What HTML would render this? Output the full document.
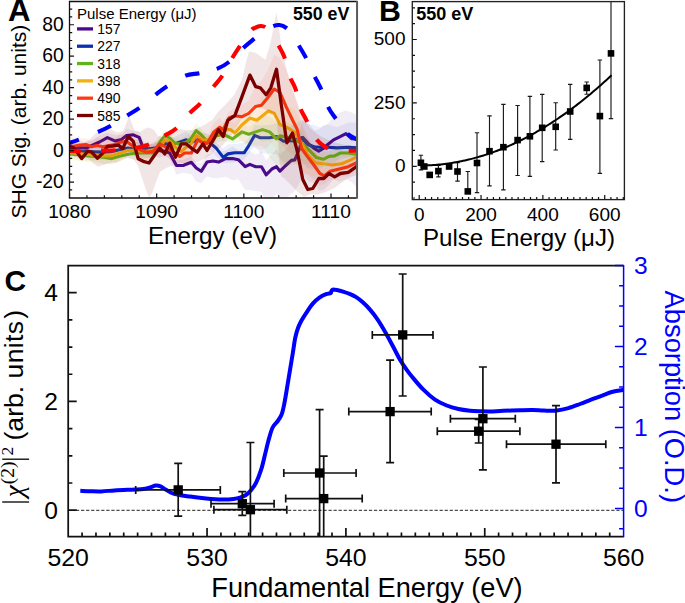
<!DOCTYPE html>
<html><head><meta charset="utf-8"><style>
html,body{margin:0;padding:0;background:#fff;}
body{width:685px;height:603px;overflow:hidden;}
svg{display:block;font-family:"Liberation Sans", sans-serif;}
</style></head><body>
<svg width="685" height="603" viewBox="0 0 685 603">
<rect width="685" height="603" fill="#fff"/>
<defs><clipPath id="clipA"><rect x="70" y="2" width="286.3" height="195.5"/></clipPath><clipPath id="clipB"><rect x="412.9" y="2" width="210.1" height="197"/></clipPath><clipPath id="clipC"><rect x="68.8" y="266" width="554.2" height="270"/></clipPath></defs>
<g clip-path="url(#clipA)">
<polygon points="68,141.14 81.1,140.82 86.4,142.51 92.5,139.92 99.5,135.44 107.4,132.47 115.3,134.92 121.4,134.99 126.6,128.63 133.3,130.69 139.1,131.08 143.2,141.2 148.2,144.74 154.8,141.55 159.8,144.24 164.8,148.2 169.7,146.47 176.4,160.06 183,159.83 191.3,156.57 196.2,162.84 201.2,163.01 207,155.1 212.8,152.57 218.6,151.91 225.5,150.42 232.5,146.53 238.3,150.02 245.2,153.31 249.9,151.01 255.7,154.67 261.5,151.13 266.1,160.19 271.9,154.08 276.5,149.33 280,154.29 285.7,149.81 291.4,141.24 294.8,141.13 299,133.75 302.8,118.32 308.5,122.97 314.2,130.56 318.7,129.59 323.3,125.74 327.8,123.87 333.5,116.5 339.2,112.78 346,110.41 351.7,112.4 358,115.37 358,188.36 351.7,182.27 346,179.24 339.2,181.81 333.5,179.6 327.8,185.88 323.3,190.23 318.7,190.5 314.2,183.26 308.5,181.47 302.8,174.49 299,184.06 294.8,191.1 291.4,193.43 285.7,198.91 280,200.69 276.5,193.72 271.9,198.34 266.1,203.69 261.5,192.11 255.7,191.01 249.9,189.97 245.2,189.98 238.3,179.34 232.5,180.19 225.5,176.78 218.6,178.35 212.8,178.31 207,176.2 201.2,182.9 196.2,181.43 191.3,174.35 183,172.87 176.4,174.86 169.7,158.72 164.8,155.68 159.8,158.07 154.8,155.73 148.2,152.21 143.2,154.65 139.1,145.28 133.3,140.9 126.6,140.86 121.4,147.28 115.3,147.51 107.4,143.39 99.5,149.67 92.5,148.19 86.4,155.36 81.1,155.4 68,155.32" fill="rgba(75,0,130,0.075)"/>
<polyline points="68,148.1 81.1,147.7 86.4,148.1 92.5,145.1 99.5,142 107.4,137.6 115.3,141.1 121.4,139.4 126.6,135.6 133.3,134.8 139.1,137.3 143.2,148.1 148.2,148.9 154.8,148.1 159.8,150.6 164.8,151.4 169.7,153 176.4,165.5 183,165.5 191.3,162.2 196.2,168 201.2,171.3 207,162.1 212.8,160.9 218.6,162.1 225.5,158.6 232.5,158.6 238.3,159.7 245.2,166.7 249.9,164.4 255.7,166.7 261.5,166.7 266.1,174.8 271.9,169 276.5,166.7 280,171.2 285.7,165.5 291.4,160.4 294.8,159.9 299,150 302.8,137.6 308.5,143.9 314.2,148.5 318.7,151.3 323.3,148.5 327.8,144.5 333.5,139.9 339.2,137.1 346,133.7 351.7,138.8 358,139.4" fill="none" stroke="#4a0a8c" stroke-width="3.1" stroke-linejoin="round"/>
<polygon points="68,142.98 85.5,143.81 103,146 111.8,146.31 120.5,142.94 128,142.08 136.6,141.78 153.2,144.18 163.1,137.52 174.7,136.98 186.3,131.26 191.3,135.77 197.9,134.38 206.2,132.78 209.3,135.15 216.2,142.72 223.2,148.6 227.8,144.6 234.8,144.05 244.1,142.87 248.7,138.32 254.5,125.01 260.3,125.47 269.6,124.67 276.5,123.06 283.5,128.26 293.9,124.76 301.6,120.08 307.3,124.07 314.2,124.89 319.9,127.14 327.8,124.46 336.9,127.26 348.3,122.46 358,122.53 358,155.55 348.3,157.79 336.9,160.68 327.8,163.56 319.9,166.52 314.2,169.15 307.3,168.1 301.6,160.68 293.9,162.43 283.5,162.49 276.5,154.33 269.6,153.71 260.3,153.12 254.5,147.04 248.7,153.4 244.1,159.51 234.8,162.57 227.8,163.32 223.2,162.99 216.2,155.93 209.3,148.63 206.2,144.68 197.9,147.64 191.3,148.48 186.3,147.98 174.7,148.04 163.1,148.37 153.2,157.64 136.6,156.96 128,154.35 120.5,155.98 111.8,156.88 103,159.92 85.5,159.84 68,155.87" fill="rgba(0,40,180,0.07)"/>
<polyline points="68,151.2 85.5,151.6 103,152.1 111.8,151.6 120.5,149.5 128,148.1 136.6,149.7 153.2,149.7 163.1,143.9 174.7,143.9 186.3,139.8 191.3,142.3 197.9,139.8 206.2,140.6 209.3,142.3 216.2,148.1 223.2,157.4 227.8,153.9 234.8,152.8 244.1,152.8 248.7,145.8 254.5,135.4 260.3,137.7 269.6,137.7 276.5,136.5 283.5,141.2 293.9,140.7 301.6,137.6 307.3,144.5 314.2,146.8 319.9,147.3 327.8,147.3 336.9,147.9 348.3,147.3 358,147.9" fill="none" stroke="#0a2fb4" stroke-width="3.1" stroke-linejoin="round"/>
<polygon points="68,146.02 81.1,147.36 94.3,153.22 103,153.88 111.8,151.42 120.5,149.32 128,147.95 136.6,148.46 153.2,146.97 159.8,136.27 164.8,129.69 169.7,134.31 174.7,137.95 179.7,138.93 186.3,135.68 191.3,130.13 196.2,122.95 201.2,129.08 207,135.97 213.9,132.13 223.2,130.87 232.5,135.24 241.8,125.05 248.7,126.69 255.7,122.03 262.6,114.72 269.6,116.41 276.5,121.55 280,119.78 286.8,122.33 295,125.7 302.8,133.31 309.6,140.61 316.4,146.95 323.3,151.57 329,151.77 334.7,148.08 340.4,145.86 348.3,146.28 358,147.16 358,158.8 348.3,156.76 340.4,156.77 334.7,163.93 329,165.39 323.3,167.02 316.4,169.47 309.6,164 302.8,164.18 295,164.3 286.8,165.86 280,164.38 276.5,165.43 269.6,157.31 262.6,146.37 255.7,145.51 248.7,145.5 241.8,141.49 232.5,143.19 223.2,140.82 213.9,143.27 207,146.83 201.2,142.15 196.2,136.88 191.3,141.85 186.3,148.5 179.7,149.28 174.7,150.28 169.7,143.45 164.8,143.58 159.8,146.47 153.2,157.3 136.6,160.19 128,157.37 120.5,159.33 111.8,164.73 103,163.32 94.3,161.35 81.1,160.82 68,157.99" fill="rgba(90,180,20,0.085)"/>
<polyline points="68,153.8 81.1,155.1 94.3,156.5 103,157.3 111.8,158.6 120.5,156 128,154.3 136.6,153 153.2,153 159.8,142.3 164.8,135.6 169.7,138.1 174.7,143.1 179.7,143.9 186.3,142.3 191.3,138.1 196.2,130.7 201.2,134.8 207,141.2 213.9,136.5 223.2,134.2 232.5,138.9 241.8,131.9 248.7,134.2 255.7,131.9 262.6,129.6 269.6,131.9 276.5,138.9 280,135.9 286.8,137.1 295,140 302.8,143.9 309.6,150.7 316.4,157.6 323.3,159.3 329,156.4 334.7,155.9 340.4,153 348.3,153 358,154.7" fill="none" stroke="#5fb41e" stroke-width="3.1" stroke-linejoin="round"/>
<polygon points="68,147.32 81.1,149.28 94.3,149.12 103,151.23 111.8,151.27 120.5,146.99 128,141.71 138.2,142.6 144.9,143.57 153.2,144.59 159.8,141.42 164.8,134.42 169.7,136.54 176.4,143.57 181.3,146.33 186.3,138.56 191.3,134.95 196.2,127.57 202.9,131.79 209.3,135.01 216.2,128.58 223.2,122.25 230.2,121.35 234.8,123.78 241.8,114.31 249.9,108.73 256.8,105.26 262.6,97.2 268.4,90.25 274.2,91.86 280,100.32 288,106.36 294.8,109.22 301.6,123.45 307.3,139.51 315.3,152.82 323.3,153.21 332.4,157.43 341.5,155.19 350.6,151.62 358,149.85 358,164.89 350.6,168.81 341.5,171.58 332.4,174.88 323.3,172.23 315.3,177.38 307.3,174.16 301.6,169.99 294.8,162.29 288,165.02 280,163.36 274.2,146.24 268.4,139.74 262.6,142.62 256.8,137.65 249.9,130.69 241.8,135.91 234.8,139.54 230.2,138.56 223.2,134.76 216.2,142.15 209.3,148.62 202.9,145.21 196.2,140.69 191.3,147.17 186.3,154.07 181.3,158.12 176.4,153.33 169.7,147.75 164.8,144.37 159.8,156.6 153.2,156.94 144.9,160.12 138.2,156.93 128,154.45 120.5,161.61 111.8,163.3 103,164.71 94.3,163.08 81.1,161.51 68,159.61" fill="rgba(245,180,0,0.085)"/>
<polyline points="68,152.5 81.1,153.8 94.3,155.1 103,156 111.8,155.6 120.5,153 128,150.3 138.2,150.6 144.9,151.4 153.2,149.7 159.8,148.1 164.8,139.8 169.7,141.4 176.4,148.1 181.3,151.4 186.3,147.2 191.3,143.1 196.2,135.6 202.9,139.8 209.3,140 216.2,134.2 223.2,129.6 230.2,129.6 234.8,133.1 241.8,125 249.9,118 256.8,120.3 262.6,115.7 268.4,111 274.2,113.4 280,124.6 288,128 294.8,132.5 301.6,142.8 307.3,154.2 315.3,162.7 323.3,163.8 332.4,165 341.5,163.8 350.6,159.9 358,156.4" fill="none" stroke="#f2b20e" stroke-width="3.1" stroke-linejoin="round"/>
<polygon points="68,136.13 73.3,137.29 79.4,137.67 86.4,138.29 91.6,141.8 96.9,137.19 103,139.45 109.2,136.7 115.3,137.73 120,133.45 126.6,135.04 133.3,137.39 139.9,141.05 146.5,145.13 153.2,143.71 159.8,135.49 164.8,140.44 169.7,141.93 174.7,143.97 179.7,150.07 184.6,143.98 191.3,144.57 197.9,130.58 202.9,136.41 207,138.01 213.9,122.82 219.7,118.08 223.2,122.03 229,111.75 234.8,108.08 241.8,105.06 248.7,100.14 255.7,85.06 261.5,80.88 267.3,71.04 274.2,54.81 280,57.84 286,69.3 292.5,86.13 297.1,100.59 301.6,123.12 307.3,135.53 314.2,149.01 319.9,159.14 324.4,167.83 330.1,162.93 339.2,160.56 348.3,160.08 358,154.14 358,170.76 348.3,176.15 339.2,176.92 330.1,180.13 324.4,184.15 319.9,185.51 314.2,180.69 307.3,174.17 301.6,172.76 297.1,159.37 292.5,154.78 286,149.73 280,142.81 274.2,139.79 267.3,147.51 261.5,150.33 255.7,147.64 248.7,144.88 241.8,141.33 234.8,133.28 229,129.67 223.2,141.87 219.7,136 213.9,138.55 207,149.63 202.9,149.77 197.9,149.19 191.3,158.27 184.6,162.89 179.7,163.39 174.7,160.89 169.7,159.44 164.8,154.54 159.8,150.02 153.2,157.02 146.5,161.33 139.9,156.82 133.3,151.85 126.6,146.75 120,149.47 115.3,149.79 109.2,153.04 103,152.09 96.9,152.33 91.6,154.48 86.4,149.96 79.4,153.35 73.3,152.15 68,151.72" fill="rgba(255,60,20,0.08)"/>
<polyline points="68,145.1 73.3,146.4 79.4,145.1 86.4,144.6 91.6,146.8 96.9,145.5 103,146.8 109.2,145.5 115.3,144.6 120,142.3 126.6,141.4 133.3,146.4 139.9,149.7 146.5,152.2 153.2,151.4 159.8,143.9 164.8,146.4 169.7,149.7 174.7,153 179.7,156.4 184.6,153 191.3,153 197.9,139.8 202.9,143.1 207,143.5 213.9,131.9 219.7,127.3 223.2,129.6 229,118 234.8,115.7 241.8,116.8 248.7,113.4 255.7,106.4 261.5,105.2 267.3,98.3 274.2,89 280,92.5 286,106.4 292.5,120 297.1,129.1 301.6,148.5 307.3,156.4 314.2,165.5 319.9,173.5 324.4,175.8 330.1,171.2 339.2,169 348.3,166.7 358,162.1" fill="none" stroke="#ff3a12" stroke-width="3.1" stroke-linejoin="round"/>
<polygon points="68,143 82,144 90,139 96,133 104,130 111,129.4 118,132.5 123,131 126.3,123 129.2,116 132,124 135,131 140,132 145,128.5 149.3,127.5 154,130 158,136 163,137 170,132 178,129 186,130 193,130 200,127 206,124 212,120 218,112 226,104 234,95 242,80 246,62 249,51.3 256,53 265.4,59.7 270,45 274,25 276.3,12 278.5,25 281,44 285.5,65 290,82 296,100 302,115 310,128 320,136 333,142 345,145 357,146 357,175 352,176.5 345.5,180 338.5,185 335,187.7 326,192 317.5,194.6 310.5,194 304,197 298,192 293,187 289,183 285,179 281,176 278.5,150 277,120 274,114 270,112 262,108 254,106 246,112 238,125 230,137 222,146 214,152 206,158 198,162 190,163 182,163 174,165 166,168 160,172 156,182 152.5,192 149.3,198 146,190 142,178 138,166 134,160 128,158 122,160 116,163 112.8,162.2 106,164 98,166.7 93,163 88,158 80,156 68,155" fill="rgba(128,0,0,0.1)"/>
<polyline points="68.9,146 74.1,148.1 81.6,158.6 87.7,151.2 91.6,152.1 97.3,158.2 103,153 107.4,146.4 112.7,146 118.4,145.1 122.7,148.6 128.3,136.5 133.3,141.4 138.2,158.8 143.2,161.3 149,163 154.8,154.7 159.8,148.1 164.8,153.9 169.7,143.1 175.5,157.2 181.3,143.9 186.3,143.9 191.3,148.1 197.1,152.2 202.9,143.9 207,150.5 213.9,138.9 218.6,129.6 223.2,136.5 227.8,120.3 234.8,115.7 241.8,97.1 249.9,75.1 255.7,86.7 260.3,87.8 266.1,94.8 270.8,87.8 276.5,69.3 281.2,104.1 286.8,142.8 292.5,133.1 297.1,150.7 302.8,179.5 307.8,189.5 312.8,188.5 318.8,178.5 323.8,178.5 329,173.5 334.7,176.9 340.4,173.5 348.3,172.4 358,165.5" fill="none" stroke="#7a0000" stroke-width="3.3" stroke-linejoin="round"/>
<path d="M60,146 C61.33,145.57 64.8,144.48 68,143.4 C71.2,142.32 74.1,141.45 79.2,139.5 C84.3,137.55 93.3,134 98.6,131.7 C103.9,129.4 106.15,128.45 111,125.7 C115.85,122.95 122.93,118.18 127.7,115.2 C132.47,112.22 134.87,111.28 139.6,107.8 C144.33,104.32 151.48,97.92 156.1,94.3 C160.72,90.68 162.4,89.2 167.3,86.1 C172.2,83 180.03,77.88 185.5,75.7 C190.97,73.52 194.68,74.22 200.1,73 C205.52,71.78 213.2,70.23 218,68.4 C222.8,66.57 224.65,65.43 228.9,62 C233.15,58.57 239.18,51.75 243.5,47.8 C247.82,43.85 251.38,41.1 254.8,38.3 C258.22,35.5 261,33 264,31 C267,29 270.23,27.3 272.8,26.3 C275.37,25.3 277.13,24.72 279.4,25 C281.67,25.28 284.3,26.42 286.4,28 C288.5,29.58 290.08,31.83 292,34.5 C293.92,37.17 295.57,40.1 297.9,44 C300.23,47.9 303.3,52.68 306,57.9 C308.7,63.12 311.58,70.08 314.1,75.3 C316.62,80.52 318.78,83.98 321.1,89.2 C323.42,94.42 325.68,101.88 328,106.6 C330.32,111.32 331.9,113.13 335,117.5 C338.1,121.87 342.83,129.1 346.6,132.8 C350.37,136.5 354.53,138 357.6,139.7 C360.67,141.4 363.77,142.45 365,143" fill="none" id="dblue" stroke="#0000ff" stroke-width="4.1" stroke-dasharray="0 5.5 14.5 20.35 14.5 19.15 14.5 20.75 14.5 20.9 14.5 17.7 14.5 19.65 14.5 22.85 14.5 21.15 14.5 20.5 14.5 18.35 14.5 18.7 14.5 1000"/>
<path d="M60,150.8 C63.45,150.87 73.82,151.23 80.7,151.2 C87.58,151.17 95.53,150.75 101.3,150.6 C107.07,150.45 109.68,150.72 115.3,150.3 C120.92,149.88 129.38,149.08 135,148.1 C140.62,147.12 144.03,146.48 149,144.4 C153.97,142.32 160.23,138.3 164.8,135.6 C169.37,132.9 172.27,131.92 176.4,128.2 C180.53,124.48 185.6,117.45 189.6,113.3 C193.6,109.15 196.52,107.6 200.4,103.3 C204.28,99 209.15,92.25 212.9,87.5 C216.65,82.75 219.72,79.65 222.9,74.8 C226.08,69.95 229.12,63.27 232,58.4 C234.88,53.53 237.15,50.13 240.2,45.6 C243.25,41.07 247.83,34.17 250.3,31.2 C252.77,28.23 253.28,28.67 255,27.8 C256.72,26.93 258.87,26.1 260.6,26 C262.33,25.9 263.83,26.15 265.4,27.2 C266.97,28.25 268.48,30.53 270,32.3 C271.52,34.07 273.22,35.87 274.5,37.8 C275.78,39.73 276.08,40.77 277.7,43.9 C279.32,47.03 282.18,51.18 284.2,56.6 C286.22,62.02 287.9,70.97 289.8,76.4 C291.7,81.83 293.87,83.97 295.6,89.2 C297.33,94.43 298.47,102.78 300.2,107.8 C301.93,112.82 303.48,114.28 306,119.3 C308.52,124.32 312.02,133.25 315.3,137.9 C318.58,142.55 322.25,145.13 325.7,147.2 C329.15,149.27 332.45,149.72 336,150.3 C339.55,150.88 343,150.63 347,150.7 C351,150.77 357.83,150.7 360,150.7" fill="none" id="dred" stroke="#ff0000" stroke-width="4.1" stroke-dasharray="0 6.25 14.5 20.25 14.5 19.65 14.5 17.7 14.5 19.8 14.5 21 14.5 20 14.5 20.1 14.5 23.1 14.5 20.3 14.5 18.1 14.5 19.75 14.5 21.25 14.5 1000"/>
</g>
<path d="M356.8,1.5 H69.5 V198.0 H356.8" fill="none" stroke="#111" stroke-width="1.3"/>
<line x1="357.05" y1="0.85" x2="357.05" y2="198.65" stroke="#5a5a5a" stroke-width="2"/>
<path d="M69.5,198.0 v-4.5 M86.93,198.0 v-2.7 M104.37,198.0 v-2.7 M121.8,198.0 v-2.7 M139.24,198.0 v-2.7 M156.67,198.0 v-4.5 M174.1,198.0 v-2.7 M191.54,198.0 v-2.7 M208.97,198.0 v-2.7 M226.41,198.0 v-2.7 M243.84,198.0 v-4.5 M261.27,198.0 v-2.7 M278.71,198.0 v-2.7 M296.14,198.0 v-2.7 M313.58,198.0 v-2.7 M331.01,198.0 v-4.5 M348.44,198.0 v-2.7 M69.5,189.92 h2.7 M69.5,182.06 h4.5 M69.5,174.19 h2.7 M69.5,166.33 h2.7 M69.5,158.47 h2.7 M69.5,150.6 h4.5 M69.5,142.73 h2.7 M69.5,134.87 h2.7 M69.5,127 h2.7 M69.5,119.14 h4.5 M69.5,111.28 h2.7 M69.5,103.41 h2.7 M69.5,95.54 h2.7 M69.5,87.68 h4.5 M69.5,79.81 h2.7 M69.5,71.95 h2.7 M69.5,64.08 h2.7 M69.5,56.22 h4.5 M69.5,48.36 h2.7 M69.5,40.49 h2.7 M69.5,32.62 h2.7 M69.5,24.76 h4.5 M69.5,16.9 h2.7 M69.5,9.03 h2.7" stroke="#111" stroke-width="1.2" fill="none"/>
<text x="69.5" y="217.5" font-size="19.2" text-anchor="middle" font-weight="normal" fill="#000" >1080</text>
<text x="156.67" y="217.5" font-size="19.2" text-anchor="middle" font-weight="normal" fill="#000" >1090</text>
<text x="243.84" y="217.5" font-size="19.2" text-anchor="middle" font-weight="normal" fill="#000" >1100</text>
<text x="331.01" y="217.5" font-size="19.2" text-anchor="middle" font-weight="normal" fill="#000" >1110</text>
<text x="63.8" y="187.96" font-size="19.3" text-anchor="end" font-weight="normal" fill="#000" >-20</text>
<text x="63.8" y="156.5" font-size="19.3" text-anchor="end" font-weight="normal" fill="#000" >0</text>
<text x="63.8" y="125.04" font-size="19.3" text-anchor="end" font-weight="normal" fill="#000" >20</text>
<text x="63.8" y="93.58" font-size="19.3" text-anchor="end" font-weight="normal" fill="#000" >40</text>
<text x="63.8" y="62.12" font-size="19.3" text-anchor="end" font-weight="normal" fill="#000" >60</text>
<text x="63.8" y="30.66" font-size="19.3" text-anchor="end" font-weight="normal" fill="#000" >80</text>
<text x="212.5" y="243.6" font-size="24.2" text-anchor="middle" font-weight="normal" fill="#000" >Energy (eV)</text>
<text transform="translate(25.6,218.5) rotate(-90)" font-size="21" text-anchor="start" fill="#000">SHG Sig. (arb. units)</text>
<text x="8" y="21.3" font-size="31.2" text-anchor="start" font-weight="bold" fill="#000" >A</text>
<text x="349.3" y="19.9" font-size="17.8" text-anchor="end" font-weight="bold" fill="#000" >550 eV</text>
<text x="77" y="19.2" font-size="15" text-anchor="start" font-weight="normal" fill="#000" >Pulse Energy (μJ)</text>
<line x1="77" y1="28.9" x2="93" y2="28.9" stroke="#4a0a8c" stroke-width="3.3"/>
<text x="97.3" y="33.9" font-size="13.9" text-anchor="start" font-weight="normal" fill="#000" >157</text>
<line x1="77" y1="46.22" x2="93" y2="46.22" stroke="#0a2fb4" stroke-width="3.3"/>
<text x="97.3" y="51.22" font-size="13.9" text-anchor="start" font-weight="normal" fill="#000" >227</text>
<line x1="77" y1="63.54" x2="93" y2="63.54" stroke="#5fb41e" stroke-width="3.3"/>
<text x="97.3" y="68.54" font-size="13.9" text-anchor="start" font-weight="normal" fill="#000" >318</text>
<line x1="77" y1="80.86" x2="93" y2="80.86" stroke="#f2b20e" stroke-width="3.3"/>
<text x="97.3" y="85.86" font-size="13.9" text-anchor="start" font-weight="normal" fill="#000" >398</text>
<line x1="77" y1="98.18" x2="93" y2="98.18" stroke="#ff3a12" stroke-width="3.3"/>
<text x="97.3" y="103.18" font-size="13.9" text-anchor="start" font-weight="normal" fill="#000" >490</text>
<line x1="77" y1="115.5" x2="93" y2="115.5" stroke="#7a0000" stroke-width="3.3"/>
<text x="97.3" y="120.5" font-size="13.9" text-anchor="start" font-weight="normal" fill="#000" >585</text>
<rect x="412.3" y="1.6" width="212.09999999999997" height="198.0" fill="none" stroke="#222" stroke-width="1.35"/>
<path d="M419.2,199.6 v-4.5 M425.38,199.6 v-2.7 M431.57,199.6 v-2.7 M437.75,199.6 v-2.7 M443.94,199.6 v-2.7 M450.12,199.6 v-2.7 M456.3,199.6 v-2.7 M462.49,199.6 v-2.7 M468.67,199.6 v-2.7 M474.86,199.6 v-2.7 M481.04,199.6 v-4.5 M487.22,199.6 v-2.7 M493.41,199.6 v-2.7 M499.59,199.6 v-2.7 M505.78,199.6 v-2.7 M511.96,199.6 v-2.7 M518.14,199.6 v-2.7 M524.33,199.6 v-2.7 M530.51,199.6 v-2.7 M536.7,199.6 v-2.7 M542.88,199.6 v-4.5 M549.06,199.6 v-2.7 M555.25,199.6 v-2.7 M561.43,199.6 v-2.7 M567.62,199.6 v-2.7 M573.8,199.6 v-2.7 M579.98,199.6 v-2.7 M586.17,199.6 v-2.7 M592.35,199.6 v-2.7 M598.54,199.6 v-2.7 M604.72,199.6 v-4.5 M610.9,199.6 v-2.7 M617.09,199.6 v-2.7 M623.27,199.6 v-2.7 M412.3,198 h2.7 M412.3,182.15 h2.7 M412.3,166.3 h4.5 M412.3,150.45 h2.7 M412.3,134.6 h2.7 M412.3,118.75 h2.7 M412.3,102.9 h4.5 M412.3,87.05 h2.7 M412.3,71.2 h2.7 M412.3,55.35 h2.7 M412.3,39.5 h4.5 M412.3,23.65 h2.7 M412.3,7.8 h2.7" stroke="#111" stroke-width="1.2" fill="none"/>
<text x="419.2" y="220.8" font-size="19" text-anchor="middle" font-weight="normal" fill="#000" >0</text>
<text x="481.04" y="220.8" font-size="19" text-anchor="middle" font-weight="normal" fill="#000" >200</text>
<text x="542.88" y="220.8" font-size="19" text-anchor="middle" font-weight="normal" fill="#000" >400</text>
<text x="604.72" y="220.8" font-size="19" text-anchor="middle" font-weight="normal" fill="#000" >600</text>
<text x="405.5" y="171.9" font-size="19" text-anchor="end" font-weight="normal" fill="#000" >0</text>
<text x="405.5" y="108.5" font-size="19" text-anchor="end" font-weight="normal" fill="#000" >250</text>
<text x="405.5" y="45.1" font-size="19" text-anchor="end" font-weight="normal" fill="#000" >500</text>
<text x="519" y="246.3" font-size="24.1" text-anchor="middle" font-weight="normal" fill="#000" >Pulse Energy (μJ)</text>
<text x="379" y="21.3" font-size="30.3" text-anchor="start" font-weight="bold" fill="#000" >B</text>
<text x="416.3" y="20.2" font-size="18" text-anchor="start" font-weight="bold" fill="#000" >550 eV</text>
<g clip-path="url(#clipB)"><path d="M420.9,155.2 V169.9 M418.7,155.2 h4.4 M418.7,169.9 h4.4 M438.4,165.5 V176.9 M436.2,165.5 h4.4 M436.2,176.9 h4.4 M457.5,162.6 V181.1 M455.3,162.6 h4.4 M455.3,181.1 h4.4 M467.8,171.5 V191.4 M465.6,171.5 h4.4 M477,132.7 V192.6 M474.8,132.7 h4.4 M474.8,192.6 h4.4 M489.5,115.8 V185.8 M487.3,115.8 h4.4 M487.3,185.8 h4.4 M503.4,104.3 V189.9 M501.2,104.3 h4.4 M501.2,189.9 h4.4 M517.6,105.5 V175.5 M515.4,105.5 h4.4 M515.4,175.5 h4.4 M529.9,96.3 V176.3 M527.7,96.3 h4.4 M527.7,176.3 h4.4 M542.2,94.3 V161.6 M540,94.3 h4.4 M540,161.6 h4.4 M555.7,102.7 V150 M553.5,102.7 h4.4 M553.5,150 h4.4 M570.2,84.4 V139.4 M568,84.4 h4.4 M568,139.4 h4.4 M586.7,82 V94.2 M584.5,82 h4.4 M584.5,94.2 h4.4 M599.9,60 V173.3 M597.7,60 h4.4 M597.7,173.3 h4.4 M611,0 V118.6 M608.8,118.6 h4.4" stroke="#1a1a1a" stroke-width="1.15" fill="none"/>
<polyline points="420.44,165.54 422.29,165.52 424.15,165.48 426,165.43 427.86,165.36 429.71,165.27 431.57,165.17 433.42,165.05 435.28,164.91 437.13,164.75 438.99,164.58 440.84,164.4 442.7,164.19 444.55,163.97 446.41,163.73 448.26,163.48 450.12,163.21 451.98,162.92 453.83,162.61 455.69,162.29 457.54,161.95 459.4,161.6 461.25,161.22 463.11,160.83 464.96,160.43 466.82,160.01 468.67,159.57 470.53,159.11 472.38,158.64 474.24,158.15 476.09,157.64 477.95,157.12 479.8,156.58 481.66,156.02 483.51,155.45 485.37,154.85 487.22,154.25 489.08,153.62 490.93,152.98 492.79,152.32 494.64,151.65 496.5,150.96 498.36,150.25 500.21,149.52 502.07,148.78 503.92,148.02 505.78,147.25 507.63,146.46 509.49,145.65 511.34,144.82 513.2,143.98 515.05,143.12 516.91,142.24 518.76,141.35 520.62,140.44 522.47,139.51 524.33,138.57 526.18,137.61 528.04,136.63 529.89,135.64 531.75,134.63 533.6,133.6 535.46,132.55 537.31,131.49 539.17,130.42 541.02,129.32 542.88,128.21 544.74,127.08 546.59,125.94 548.45,124.77 550.3,123.6 552.16,122.4 554.01,121.19 555.87,119.96 557.72,118.71 559.58,117.45 561.43,116.17 563.29,114.87 565.14,113.56 567,112.23 568.85,110.88 570.71,109.52 572.56,108.14 574.42,106.74 576.27,105.33 578.13,103.9 579.98,102.45 581.84,100.99 583.69,99.51 585.55,98.01 587.4,96.49 589.26,94.96 591.12,93.41 592.97,91.85 594.83,90.27 596.68,88.67 598.54,87.05 600.39,85.42 602.25,83.77 604.1,82.11 605.96,80.42 607.81,78.72 609.67,77.01 611.52,75.27" fill="none" stroke="#000" stroke-width="2"/>
<rect x="417.6" y="159.5" width="6.6" height="6.6" fill="#000"/>
<rect x="421" y="163.2" width="6.6" height="6.6" fill="#000"/>
<rect x="426.4" y="171.6" width="6.6" height="6.6" fill="#000"/>
<rect x="435.1" y="167.8" width="6.6" height="6.6" fill="#000"/>
<rect x="445.8" y="163.2" width="6.6" height="6.6" fill="#000"/>
<rect x="454.2" y="168.2" width="6.6" height="6.6" fill="#000"/>
<rect x="464.5" y="188.1" width="6.6" height="6.6" fill="#000"/>
<rect x="473.7" y="159.7" width="6.6" height="6.6" fill="#000"/>
<rect x="486.2" y="147.9" width="6.6" height="6.6" fill="#000"/>
<rect x="500.1" y="143.9" width="6.6" height="6.6" fill="#000"/>
<rect x="514.3" y="136.8" width="6.6" height="6.6" fill="#000"/>
<rect x="526.6" y="133" width="6.6" height="6.6" fill="#000"/>
<rect x="538.9" y="124.5" width="6.6" height="6.6" fill="#000"/>
<rect x="552.4" y="123.5" width="6.6" height="6.6" fill="#000"/>
<rect x="566.9" y="108.2" width="6.6" height="6.6" fill="#000"/>
<rect x="583.4" y="84.6" width="6.6" height="6.6" fill="#000"/>
<rect x="596.6" y="112.8" width="6.6" height="6.6" fill="#000"/>
<rect x="607.7" y="50.1" width="6.6" height="6.6" fill="#000"/>
</g>
<line x1="76" y1="510.3" x2="624" y2="510.3" stroke="#222" stroke-width="1" stroke-dasharray="3.2 1.85"/>
<g clip-path="url(#clipC)"><path d="M80.3,490.8 C82.08,490.88 87.5,491.2 91,491.3 C94.5,491.4 97.4,491.55 101.3,491.4 C105.2,491.25 110.02,490.67 114.4,490.4 C118.78,490.13 124.1,489.93 127.6,489.8 C131.1,489.67 132.78,489.72 135.4,489.6 C138.02,489.48 140.87,489.47 143.3,489.1 C145.73,488.73 147.92,487.98 150,487.4 C152.08,486.82 154.03,485.77 155.8,485.6 C157.57,485.43 158.88,485.7 160.6,486.4 C162.32,487.1 163.85,488.57 166.1,489.8 C168.35,491.03 170.1,492.67 174.1,493.8 C178.1,494.93 184.75,495.83 190.1,496.6 C195.45,497.37 200.83,497.93 206.2,498.4 C211.57,498.87 217.75,499.32 222.3,499.4 C226.85,499.48 230.55,499.2 233.5,498.9 C236.45,498.6 238,498.2 240,497.6 C242,497 243.75,496.43 245.5,495.3 C247.25,494.17 248.75,492.87 250.5,490.8 C252.25,488.73 254.2,486.5 256,482.9 C257.8,479.3 259.8,473.92 261.3,469.2 C262.8,464.48 263.78,459.47 265,454.6 C266.22,449.73 267.33,444.52 268.6,440 C269.87,435.48 271.13,430.58 272.6,427.5 C274.07,424.42 275.9,423.67 277.4,421.5 C278.9,419.33 280.43,417.55 281.6,414.5 C282.77,411.45 283.45,407.9 284.4,403.2 C285.35,398.5 286.35,391.93 287.3,386.3 C288.25,380.67 289.17,375.03 290.1,369.4 C291.03,363.77 292.05,357.73 292.9,352.5 C293.75,347.27 294.35,342.08 295.2,338 C296.05,333.92 296.95,330.92 298,328 C299.05,325.08 300.12,323.03 301.5,320.5 C302.88,317.97 304.42,315.62 306.3,312.8 C308.18,309.98 310.62,306.12 312.8,303.6 C314.98,301.08 317.2,299.27 319.4,297.7 C321.6,296.13 324.13,294.97 326,294.2 C327.87,293.43 329.73,293.5 330.6,293.1 C331.47,292.7 330.87,292.38 331.2,291.8 C331.53,291.22 331.5,289.87 332.6,289.6 C333.7,289.33 336.05,289.87 337.8,290.2 C339.55,290.53 341.13,291 343.1,291.6 C345.07,292.2 347.42,292.88 349.6,293.8 C351.78,294.72 354,295.68 356.2,297.1 C358.4,298.52 360.5,300.22 362.8,302.3 C365.1,304.38 367.58,306.8 370,309.6 C372.42,312.4 374.65,315.17 377.3,319.1 C379.95,323.03 383.03,328.17 385.9,333.2 C388.77,338.23 392.15,344.88 394.5,349.3 C396.85,353.72 398.12,356.5 400,359.7 C401.88,362.9 403.85,365.73 405.8,368.5 C407.75,371.27 408.77,372.77 411.7,376.3 C414.63,379.83 419.52,385.82 423.4,389.7 C427.28,393.58 431.12,396.97 435,399.6 C438.88,402.23 442.8,403.93 446.7,405.5 C450.6,407.07 454.52,408.13 458.4,409 C462.28,409.87 466.4,410.32 470,410.7 C473.6,411.08 476.68,411.17 480,411.3 C483.32,411.43 486.07,411.58 489.9,411.5 C493.73,411.42 497.98,411 503,410.8 C508.02,410.6 515.03,410.42 520,410.3 C524.97,410.18 528.78,410.05 532.8,410.1 C536.82,410.15 540.12,410.53 544.1,410.6 C548.08,410.67 552.65,410.92 556.7,410.5 C560.75,410.08 564.52,409.18 568.4,408.1 C572.28,407.02 576.12,405.45 580,404 C583.88,402.55 587.8,400.88 591.7,399.4 C595.6,397.92 599.9,396.37 603.4,395.1 C606.9,393.83 609.48,392.65 612.7,391.8 C615.92,390.95 620.65,390.33 622.7,390 C624.75,389.67 624.62,389.83 625,389.8" fill="none" stroke="#0000ff" stroke-width="4" stroke-linejoin="round"/>
<path d="M135.7,489.9 H220.3 M178.2,463.4 V516.2 M135.7,485.9 v8 M220.3,485.9 v8 M174.2,463.4 h8 M174.2,516.2 h8 M211,503.7 H274.1 M242.3,491.6 V515.4 M211,499.7 v8 M274.1,499.7 v8 M238.3,491.6 h8 M238.3,515.4 h8 M213.9,509.7 H286.8 M250.4,442.5 V540 M213.9,505.7 v8 M286.8,505.7 v8 M246.4,442.5 h8 M283.8,473 H356.1 M319.6,409.7 V540 M283.8,469 v8 M356.1,469 v8 M315.6,409.7 h8 M285.7,498.6 H362.2 M323.7,456.1 V540 M285.7,494.6 v8 M362.2,494.6 v8 M319.7,456.1 h8 M348.8,411.6 H431.2 M390.1,360.1 V462.6 M348.8,407.6 v8 M431.2,407.6 v8 M386.1,360.1 h8 M386.1,462.6 h8 M372.3,334.9 H433 M402.7,274 V396 M372.3,330.9 v8 M433,330.9 v8 M398.7,274 h8 M398.7,396 h8 M450.4,418.7 H515.3 M482.9,367 V469.9 M450.4,414.7 v8 M515.3,414.7 v8 M478.9,367 h8 M478.9,469.9 h8 M437.3,431.2 H519.9 M478.7,419.3 V443 M437.3,427.2 v8 M519.9,427.2 v8 M474.7,419.3 h8 M474.7,443 h8 M506.5,444.2 H605.8 M556,405.6 V482.8 M506.5,440.2 v8 M605.8,440.2 v8 M552,405.6 h8 M552,482.8 h8" stroke="#111" stroke-width="1.7" fill="none"/>
<rect x="173.55" y="485.25" width="9.3" height="9.3" fill="#000"/>
<rect x="237.65" y="499.05" width="9.3" height="9.3" fill="#000"/>
<rect x="245.75" y="505.05" width="9.3" height="9.3" fill="#000"/>
<rect x="314.95" y="468.35" width="9.3" height="9.3" fill="#000"/>
<rect x="319.05" y="493.95" width="9.3" height="9.3" fill="#000"/>
<rect x="385.45" y="406.95" width="9.3" height="9.3" fill="#000"/>
<rect x="398.05" y="330.25" width="9.3" height="9.3" fill="#000"/>
<rect x="478.25" y="414.05" width="9.3" height="9.3" fill="#000"/>
<rect x="474.05" y="426.55" width="9.3" height="9.3" fill="#000"/>
<rect x="551.35" y="439.55" width="9.3" height="9.3" fill="#000"/>
</g>
<path d="M623.6,265.7 H68.2 V536.6 H623.6" fill="none" stroke="#111" stroke-width="1.75"/>
<line x1="623.6" y1="264.95" x2="623.6" y2="537.35" stroke="#0000ff" stroke-width="1.5"/>
<path d="M82.09,536.6 v-4.2 M95.97,536.6 v-4.2 M109.86,536.6 v-4.2 M123.74,536.6 v-4.2 M137.62,536.6 v-4.2 M151.51,536.6 v-4.2 M165.39,536.6 v-4.2 M179.28,536.6 v-4.2 M193.17,536.6 v-4.2 M207.05,536.6 v-8.5 M220.94,536.6 v-4.2 M234.82,536.6 v-4.2 M248.7,536.6 v-4.2 M262.59,536.6 v-4.2 M276.48,536.6 v-4.2 M290.36,536.6 v-4.2 M304.25,536.6 v-4.2 M318.13,536.6 v-4.2 M332.01,536.6 v-4.2 M345.9,536.6 v-8.5 M359.78,536.6 v-4.2 M373.67,536.6 v-4.2 M387.56,536.6 v-4.2 M401.44,536.6 v-4.2 M415.32,536.6 v-4.2 M429.21,536.6 v-4.2 M443.09,536.6 v-4.2 M456.98,536.6 v-4.2 M470.87,536.6 v-4.2 M484.75,536.6 v-8.5 M498.63,536.6 v-4.2 M512.52,536.6 v-4.2 M526.4,536.6 v-4.2 M540.29,536.6 v-4.2 M554.17,536.6 v-4.2 M568.06,536.6 v-4.2 M581.95,536.6 v-4.2 M595.83,536.6 v-4.2 M609.72,536.6 v-4.2 M68.2,510.2 h8.5 M68.2,483.01 h4.2 M68.2,455.83 h4.2 M68.2,428.64 h4.2 M68.2,401.46 h8.5 M68.2,374.27 h4.2 M68.2,347.09 h4.2 M68.2,319.9 h4.2 M68.2,292.72 h8.5" stroke="#111" stroke-width="1.7" fill="none"/>
<path d="M623.6,528.65 h-4.5 M623.6,508.4 h-8.7 M623.6,488.15 h-4.5 M623.6,467.9 h-4.5 M623.6,447.65 h-4.5 M623.6,427.4 h-8.7 M623.6,407.15 h-4.5 M623.6,386.9 h-4.5 M623.6,366.65 h-4.5 M623.6,346.4 h-8.7 M623.6,326.15 h-4.5 M623.6,305.9 h-4.5 M623.6,285.65 h-4.5 M623.6,265.4 h-8.7" stroke="#0000ff" stroke-width="1.5" fill="none"/>
<text x="68.2" y="566.2" font-size="24.8" text-anchor="middle" font-weight="normal" fill="#000" >520</text>
<text x="207.05" y="566.2" font-size="24.8" text-anchor="middle" font-weight="normal" fill="#000" >530</text>
<text x="345.9" y="566.2" font-size="24.8" text-anchor="middle" font-weight="normal" fill="#000" >540</text>
<text x="484.75" y="566.2" font-size="24.8" text-anchor="middle" font-weight="normal" fill="#000" >550</text>
<text x="623.6" y="566.2" font-size="24.8" text-anchor="middle" font-weight="normal" fill="#000" >560</text>
<text x="58" y="518.9" font-size="24.6" text-anchor="end" font-weight="normal" fill="#000" >0</text>
<text x="58" y="410.16" font-size="24.6" text-anchor="end" font-weight="normal" fill="#000" >2</text>
<text x="58" y="301.42" font-size="24.6" text-anchor="end" font-weight="normal" fill="#000" >4</text>
<text x="634" y="517.1" font-size="24.6" text-anchor="start" font-weight="normal" fill="#0000ff" >0</text>
<text x="634" y="436.1" font-size="24.6" text-anchor="start" font-weight="normal" fill="#0000ff" >1</text>
<text x="634" y="355.1" font-size="24.6" text-anchor="start" font-weight="normal" fill="#0000ff" >2</text>
<text x="634" y="274.1" font-size="24.6" text-anchor="start" font-weight="normal" fill="#0000ff" >3</text>
<text x="367" y="596.5" font-size="27.2" text-anchor="middle" font-weight="normal" fill="#000" >Fundamental Energy (eV)</text>
<text transform="translate(664.7,290.6) rotate(90)" font-size="27.3" text-anchor="start" fill="#0000ff">Absorption (O.D.)</text>
<line x1="2.2" y1="502" x2="29.1" y2="502" stroke="#000" stroke-width="1.3"/>
<line x1="2.2" y1="459.2" x2="29.1" y2="459.2" stroke="#000" stroke-width="1.3"/>
<text transform="translate(23.3,497.3) rotate(-90)" font-size="27.5" font-family="Liberation Serif" font-style="italic" fill="#000">χ</text>
<text transform="translate(14.2,484.2) rotate(-90)" font-size="19.5" font-family="Liberation Serif" fill="#000">(2)</text>
<text transform="translate(12.6,455.6) rotate(-90)" font-size="17.5" font-family="Liberation Serif" fill="#000">2</text>
<text transform="translate(23.3,440.5) rotate(-90)" font-size="26.6" fill="#000">(arb. <tspan letter-spacing="0.3">units</tspan><tspan dx="2">)</tspan></text>
<text x="4.6" y="291.2" font-size="30" text-anchor="start" font-weight="bold" fill="#000" >C</text>
</svg></body></html>
